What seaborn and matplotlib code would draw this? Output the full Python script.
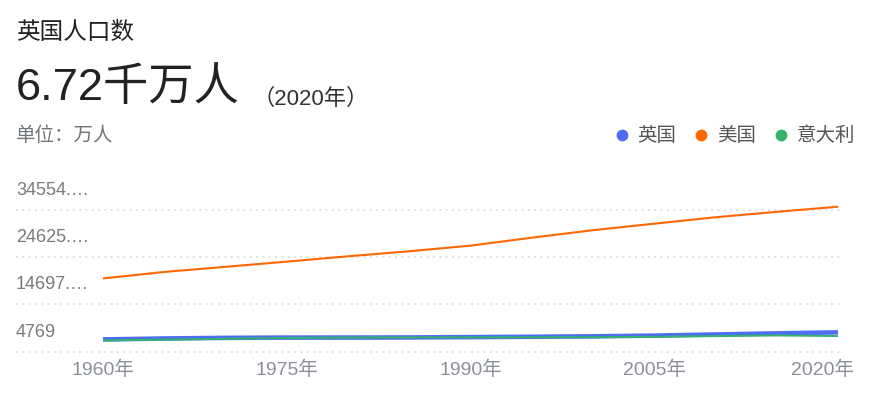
import matplotlib
matplotlib.use("Agg")
import matplotlib.pyplot as plt
from matplotlib.lines import Line2D
from matplotlib.transforms import ScaledTranslation
import pandas as pd
import seaborn as sns

# 数据（万人）
years = [1960, 1965, 1970, 1975, 1980, 1985, 1990, 1995, 2000, 2005, 2010, 2015, 2020]
uk_pop = [5237, 5435, 5566, 5623, 5631, 5655, 5723, 5798, 5889, 6040, 6277, 6513, 6722]
us_pop = [18067, 19430, 20505, 21597, 22722, 23779, 24962, 26633, 28216, 29575, 30933, 32074, 33150]
it_pop = [5020, 5199, 5363, 5544, 5643, 5659, 5672, 5684, 5694, 5799, 5928, 6073, 5944]

series_names = ["英国", "美国", "意大利"]
series_colors = ["#4e6ef2", "#ff6600", "#34b36a"]

x_ticks = [1960, 1975, 1990, 2005, 2020]
x_labels = ["1960年", "1975年", "1990年", "2005年", "2020年"]
y_grid = [2656, 12584, 22512, 32440]
y_labels = ["4769", "14697.…", "24625.…", "34554.…"]

df = pd.DataFrame({
    "year": years * 3,
    "pop": uk_pop + us_pop + it_pop,
    "country": ["英国"] * len(years) + ["美国"] * len(years) + ["意大利"] * len(years),
})

sns.set_theme(style="white")
plt.rcParams["font.family"] = ["Liberation Sans", "Noto Sans CJK SC", "DejaVu Sans"]

W, H = 872, 409
fig = plt.figure(figsize=(W / 100, H / 100), dpi=100)
# 绘图区：像素 left 16, right 840, top 200, bottom 356
ax = fig.add_axes([16 / W, 1 - 356 / H, (840 - 16) / W, (356 - 200) / H])

palette = dict(zip(series_names, series_colors))
widths = {"美国": 1.5, "英国": 3.3, "意大利": 1.4}
# 意大利画在英国上面
for name in ["美国", "英国", "意大利"]:
    sns.lineplot(data=df[df["country"] == name], x="year", y="pop",
                 color=palette[name], linewidth=widths[name], ax=ax,
                 legend=False, solid_capstyle="butt")

ax.set_xlim(1952.9, 2020.16)
ax.set_ylim(1752, 34560)
ax.set_xlabel("")
ax.set_ylabel("")
for s in ax.spines.values():
    s.set_visible(False)

ax.set_yticks(y_grid)
ax.set_yticklabels(y_labels)
ax.yaxis.grid(True, color="#dddddd", linestyle=(0, (1, 2.5)), linewidth=1.3)
ax.xaxis.grid(False)
ax.tick_params(axis="y", length=0, pad=0, labelsize=13, labelcolor="#7a7a7a")
for lab in ax.get_yticklabels():
    lab.set_ha("left")
    lab.set_va("baseline")
    lab.set_transform(lab.get_transform() + ScaledTranslation(0, 0.15, fig.dpi_scale_trans))

ax.set_xticks(x_ticks)
ax.set_xticklabels(x_labels)
ax.tick_params(axis="x", length=0, pad=3, labelsize=14, labelcolor="#8a8f99")
last = ax.get_xticklabels()[-1]
last.set_transform(last.get_transform() + ScaledTranslation(-0.16, 0, fig.dpi_scale_trans))

# 标题文字
fig.text(16 / W, 1 - 39 / H, "英国人口数", fontsize=17, color="#222222", va="baseline")
fig.text(16 / W, 1 - 100 / H, "6.72千万人", fontsize=32.6, color="#222222", va="baseline")
fig.text(253 / W, 1 - 105 / H, "（2020年）", fontsize=16, color="#333333", va="baseline")
fig.text(16 / W, 1 - 141 / H, "单位：万人", fontsize=14, color="#70757a", va="baseline")

handles = [Line2D([], [], marker="o", linestyle="", markersize=7.5,
                  color=c) for c in series_colors]
fig.legend(handles, series_names, loc="center right",
           bbox_to_anchor=(863 / W, 1 - 136 / H), ncol=3, frameon=False,
           fontsize=14, labelcolor="#555555", handlelength=0.8,
           handletextpad=0.4, columnspacing=0.9, borderaxespad=0)

fig.savefig("out.png", dpi=100)
